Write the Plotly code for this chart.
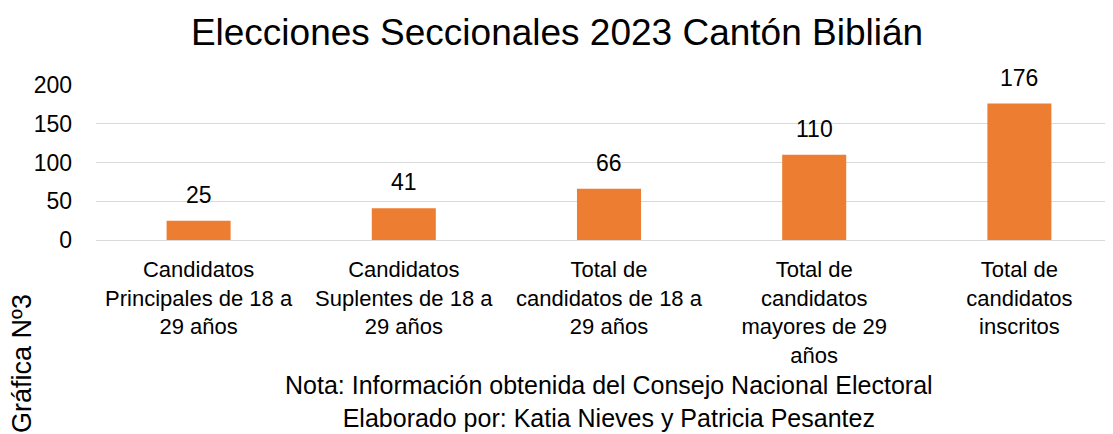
import plotly.graph_objects as go

categories = [
    "Candidatos<br>Principales de 18 a<br>29 años",
    "Candidatos<br>Suplentes de 18 a<br>29 años",
    "Total de<br>candidatos de 18 a<br>29 años",
    "Total de<br>candidatos<br>mayores de 29<br>años",
    "Total de<br>candidatos<br>inscritos",
]
values = [25, 41, 66, 110, 176]
y_ticks = [0, 50, 100, 150, 200]
note_lines = [
    "Nota: Información obtenida del Consejo Nacional Electoral",
    "Elaborado por: Katia Nieves y Patricia Pesantez",
]

FONT = "Liberation Sans, Arial, sans-serif"

# page body has 8px margin -> figure-local = screen - 8
W, H = 1114, 426
L, R, T, B = 88, 0, 77, 194
PH = H - T - B  # plot height in px
PW = W - L - R  # plot width in px


def py(screen_y):
    return (240 - screen_y) / PH


def px(screen_x):
    return (screen_x - 96) / PW


fig = go.Figure(go.Bar(
    x=categories,
    y=values,
    marker=dict(color="#ED7D31", line=dict(width=0)),
    cliponaxis=False,
))

fig.update_layout(
    width=W,
    height=H,
    margin=dict(l=L, r=R, t=T, b=B, autoexpand=False),
    paper_bgcolor="white",
    plot_bgcolor="white",
    bargap=0.688,
    showlegend=False,
    title=dict(
        text="Elecciones Seccionales 2023 Cantón Biblián",
        x=(557 - 8) / W, xanchor="center", xref="container",
        y=1 - (32 - 8) / H, yanchor="middle", yref="container",
        font=dict(family=FONT, size=37, color="#000000"),
    ),
    font=dict(family=FONT, size=22, color="#000000"),
)

fig.update_yaxes(
    range=[0, 200],
    tickvals=y_ticks,
    showgrid=True,
    gridcolor="#D9D9D9",
    gridwidth=1.3,
    zeroline=True,
    zerolinecolor="#D9D9D9",
    zerolinewidth=1.3,
    showline=False,
    ticks="",
    ticklabelstandoff=23,
    automargin=False,
    tickfont=dict(family=FONT, size=23, color="#000000"),
)
fig.update_xaxes(
    showline=False,
    ticks="",
    ticklabelstandoff=14,
    tickangle=0,
    automargin=False,
    tickfont=dict(family=FONT, size=22, color="#000000"),
)

for c, v in zip(categories, values):
    fig.add_annotation(
        x=c, y=v, xref="x", yref="y",
        text=str(v), showarrow=False,
        yanchor="middle", yshift=26,
        font=dict(family=FONT, size=23, color="#000000"),
    )

fig.add_annotation(
    text="<br>".join(note_lines),
    xref="paper", yref="paper",
    x=0.5, y=py(401),
    xanchor="center", yanchor="middle",
    showarrow=False,
    font=dict(family=FONT, size=25, color="#000000"),
)

fig.add_annotation(
    text="Gráfica Nº3",
    xref="paper", yref="paper",
    x=px(22), y=py(364),
    xanchor="center", yanchor="middle",
    textangle=-90,
    showarrow=False,
    font=dict(family=FONT, size=27, color="#000000"),
)

fig.write_html("out.html")
